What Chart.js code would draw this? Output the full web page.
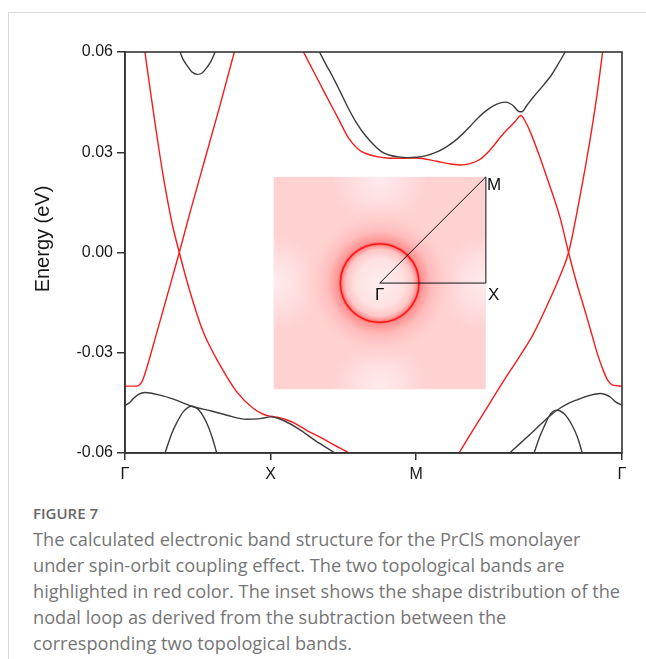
<!DOCTYPE html>
<html>
<head>
<meta charset="utf-8">
<script src="https://cdn.jsdelivr.net/npm/chart.js@4.4.1/dist/chart.umd.min.js"></script>
<style>
  body { margin: 0; background: #fff; width: 646px; height: 659px; overflow: hidden; position: relative; }
  .card { position: absolute; left: 8px; top: 12px; width: 700px; height: 700px; border-left: 1px solid #d9d9d9; border-top: 1px solid #d9d9d9; }
  #wrap { position: absolute; left: 0; top: 0; width: 646px; height: 500px; }
  .fig { position: absolute; left: 33px; top: 503px; font: 600 15px "Open Sans", sans-serif; color: #666; line-height: 20px; }
  .cap { position: absolute; left: 33px; top: 526px; font: 400 18.2px "Open Sans", sans-serif; color: #767676; line-height: 26px; white-space: nowrap; }
</style>
</head>
<body>
<div class="card"></div>
<div id="wrap"><canvas id="bands" width="646" height="500"></canvas></div>
<div class="fig">FIGURE 7</div>
<div class="cap">
  <div>The calculated electronic band structure for the PrClS monolayer</div>
  <div>under spin-orbit coupling effect. The two topological bands are</div>
  <div>highlighted in red color. The inset shows the shape distribution of the</div>
  <div>nodal loop as derived from the subtraction between the</div>
  <div>corresponding two topological bands.</div>
</div>
<script>
// k-path positions of high-symmetry points and their labels
const kTicks = [0, 1, 2, 3.414];
const kLabels = ["Γ", "X", "M", "Γ"];
const eTicks = [-0.06, -0.03, 0, 0.03, 0.06];

// topological bands (red), [k, energy in eV]
const redBandA = [
  [0, -0.0400], [0.08, -0.0400], [0.10, -0.0396], [0.115, -0.0388], [0.13, -0.0372],
  [0.16, -0.0330], [0.195, -0.0276], [0.263, -0.0171], [0.321, -0.0081], [0.373, 0.0],
  [0.447, 0.0120], [0.538, 0.0262], [0.653, 0.0441], [0.751, 0.0600]
];
const redBandB = [
  [0.137, 0.0600], [0.165, 0.0512], [0.195, 0.0421], [0.23, 0.0318], [0.263, 0.0228],
  [0.321, 0.0092], [0.373, 0.0], [0.447, -0.0118], [0.538, -0.0238], [0.653, -0.0337],
  [0.768, -0.0417], [0.882, -0.0467], [0.95, -0.0484], [1.0, -0.0490], [1.06, -0.0494],
  [1.10, -0.0499], [1.17, -0.0512], [1.26, -0.0535], [1.35, -0.0555], [1.42, -0.0572],
  [1.54, -0.0600]
];
const redBandC = [
  [1.226, 0.0600], [1.30, 0.0538], [1.38, 0.0471], [1.46, 0.0405], [1.535, 0.0343],
  [1.60, 0.0310], [1.65, 0.0297], [1.73, 0.0287], [1.80, 0.0283], [1.90, 0.0282],
  [2.00, 0.0283], [2.143, 0.0273], [2.22, 0.0266], [2.30, 0.0262], [2.37, 0.0266],
  [2.44, 0.0279], [2.50, 0.0303], [2.60, 0.0356], [2.68, 0.0392], [2.72, 0.0410],
  [2.75, 0.0392], [2.784, 0.0361], [2.85, 0.0285], [2.90, 0.0222], [2.99, 0.0102],
  [3.047, 0.0], [3.105, -0.0095], [3.15, -0.0160], [3.20, -0.0235], [3.25, -0.0310],
  [3.29, -0.0358], [3.32, -0.0385], [3.35, -0.0397], [3.414, -0.0400]
];
const redBandD = [
  [2.294, -0.0600], [2.40, -0.0525], [2.50, -0.0455], [2.60, -0.0385], [2.70, -0.0318],
  [2.80, -0.0248], [2.90, -0.0158], [2.99, -0.0068], [3.047, 0.0], [3.127, 0.0172],
  [3.196, 0.0341], [3.242, 0.0471], [3.281, 0.0600]
];

// other bands (black)
const blackBandTop = [
  [0.378, 0.0600], [0.40, 0.0577], [0.424, 0.0561], [0.46, 0.0540], [0.497, 0.0533],
  [0.53, 0.0537], [0.561, 0.0553], [0.59, 0.0572], [0.619, 0.0600]
];
const blackBandA = [
  [0, -0.0457], [0.03, -0.0450], [0.057, -0.0437], [0.09, -0.0425], [0.137, -0.0419],
  [0.241, -0.0427], [0.332, -0.0439], [0.458, -0.0460], [0.60, -0.0475], [0.70, -0.0487],
  [0.836, -0.0499], [0.93, -0.0497], [1.0, -0.0492], [1.05, -0.0496], [1.10, -0.0505],
  [1.19, -0.0527], [1.305, -0.0562], [1.443, -0.0600]
];
const blackBandB = [
  [0.275, -0.0600], [0.32, -0.0543], [0.355, -0.0510], [0.40, -0.0477], [0.458, -0.0460],
  [0.51, -0.0473], [0.562, -0.0511], [0.60, -0.0555], [0.630, -0.0600]
];
const blackBandC = [
  [1.336, 0.0600], [1.38, 0.0563], [1.421, 0.0531], [1.48, 0.0480], [1.535, 0.0431],
  [1.59, 0.0388], [1.65, 0.0351], [1.71, 0.0322], [1.765, 0.0301], [1.82, 0.0291],
  [1.879, 0.0286], [1.94, 0.0284], [2.0, 0.0285], [2.07, 0.0290], [2.143, 0.0301],
  [2.20, 0.0314], [2.257, 0.0331], [2.32, 0.0355], [2.371, 0.0378], [2.43, 0.0405],
  [2.486, 0.0426], [2.55, 0.0443], [2.612, 0.0450], [2.665, 0.0440], [2.705, 0.0422],
  [2.725, 0.0421], [2.76, 0.0440], [2.807, 0.0466], [2.875, 0.0501], [2.921, 0.0526],
  [2.97, 0.0560], [3.024, 0.0600]
];
const blackBandD = [
  [2.642, -0.0600], [2.72, -0.0569], [2.80, -0.0537], [2.88, -0.0504], [2.967, -0.0472],
  [3.04, -0.0453], [3.105, -0.0441], [3.19, -0.0428], [3.265, -0.0422], [3.30, -0.0425],
  [3.335, -0.0433], [3.37, -0.0447], [3.414, -0.0457]
];
const blackBandE = [
  [2.810, -0.0600], [2.85, -0.0550], [2.875, -0.0525], [2.92, -0.0485], [2.967, -0.0472],
  [3.02, -0.0484], [3.071, -0.0517], [3.11, -0.0555], [3.141, -0.0600]
];

// inset: Brillouin-zone path (units of half zone width) and nodal loop radius
const insetPath = [[0, 0], [1, 0], [1, 1], [0, 0]];
const insetLabels = [["Γ", 0, 0], ["X", 1, 0], ["M", 1, 1]];
const nodalLoopRadius = 0.37;
// where the inset sits, in the main chart's (k, E) units
const insetBox = { kMin: 1.02, kMax: 2.479, eMin: -0.041, eMax: 0.0227 };

const RED = "#f51c1c";
const BLACK = "#3c3c3c";
const AXIS = "#333333";
const FONT = "'Liberation Sans', Arial, sans-serif";

function band(points, color) {
  return {
    data: points.map(([k, e]) => ({ x: k, y: e })),
    borderColor: color,
    borderWidth: 1.4,
    pointRadius: 0,
    fill: false,
    cubicInterpolationMode: "monotone",
  };
}

// frame around the plot + y title
const framePlugin = {
  id: "frame",
  afterDraw(chart) {
    const { ctx, chartArea: a } = chart;
    ctx.save();
    ctx.strokeStyle = AXIS;
    ctx.lineWidth = 1.6;
    ctx.strokeRect(a.left, a.top, a.right - a.left, a.bottom - a.top);
    ctx.translate(43, 239);
    ctx.rotate(-Math.PI / 2);
    ctx.fillStyle = "#1a1a1a";
    ctx.font = "20px " + FONT;
    ctx.textAlign = "center";
    ctx.textBaseline = "middle";
    ctx.fillText("Energy (eV)", 0, 0);
    ctx.restore();
  },
};

// nodal-loop inset
const insetPlugin = {
  id: "inset",
  afterDatasetsDraw(chart) {
    const { ctx, scales } = chart;
    const x0 = scales.x.getPixelForValue(insetBox.kMin);
    const x1 = scales.x.getPixelForValue(insetBox.kMax);
    const y0 = scales.y.getPixelForValue(insetBox.eMax);
    const y1 = scales.y.getPixelForValue(insetBox.eMin);
    const cx = (x0 + x1) / 2, cy = (y0 + y1) / 2;
    const half = (x1 - x0) / 2;
    const toPx = (u, v) => [cx + u * half, cy - v * half];
    const r = nodalLoopRadius * half;

    ctx.save();
    ctx.beginPath();
    ctx.rect(x0, y0, x1 - x0, y1 - y0);
    ctx.clip();
    ctx.fillStyle = "#ffd2d2";
    ctx.fillRect(x0, y0, x1 - x0, y1 - y0);

    // lighter patches at the zone-edge midpoints
    [[0, 1], [0, -1], [-1, 0], [1, 0]].forEach(([u, v]) => {
      const [px, py] = toPx(u, v);
      const g = ctx.createRadialGradient(px, py, 0, px, py, half * 0.45);
      g.addColorStop(0, "rgba(255,236,238,1)");
      g.addColorStop(1, "rgba(255,236,238,0)");
      ctx.fillStyle = g;
      ctx.fillRect(x0, y0, x1 - x0, y1 - y0);
    });

    // glow around the nodal loop
    const R = r * 2.1;
    const g = ctx.createRadialGradient(cx, cy, 0, cx, cy, R);
    const f = r / R;
    g.addColorStop(0, "rgba(255,238,238,1)");
    g.addColorStop(f * 0.6, "rgba(255,226,226,1)");
    g.addColorStop(f * 0.85, "rgba(255,198,198,1)");
    g.addColorStop(f * 0.95, "rgba(255,145,145,1)");
    g.addColorStop(f, "rgba(255,70,70,1)");
    g.addColorStop(f * 1.05, "rgba(255,145,145,1)");
    g.addColorStop(f * 1.3, "rgba(255,186,186,1)");
    g.addColorStop(f * 1.7, "rgba(255,206,206,0.6)");
    g.addColorStop(1, "rgba(255,210,210,0)");
    ctx.fillStyle = g;
    ctx.beginPath();
    ctx.arc(cx, cy, R, 0, Math.PI * 2);
    ctx.fill();

    ctx.strokeStyle = "#ff1010";
    ctx.lineWidth = 1.3;
    ctx.beginPath();
    ctx.arc(cx, cy, r, 0, Math.PI * 2);
    ctx.stroke();
    ctx.restore();

    // zone path and labels
    ctx.save();
    ctx.strokeStyle = "#111";
    ctx.lineWidth = 1;
    ctx.beginPath();
    insetPath.forEach(([u, v], i) => {
      const [px, py] = toPx(u, v);
      if (i === 0) ctx.moveTo(px, py); else ctx.lineTo(px, py);
    });
    ctx.stroke();
    ctx.fillStyle = "#111";
    ctx.font = "17px " + FONT;
    ctx.textBaseline = "middle";
    insetLabels.forEach(([t, u, v]) => {
      const [px, py] = toPx(u, v);
      if (t === "Γ") { ctx.textAlign = "center"; ctx.fillText(t, px, py + 12); }
      else if (t === "X") { ctx.textAlign = "left"; ctx.fillText(t, px + 2, py + 12); }
      else { ctx.textAlign = "left"; ctx.fillText(t, px + 1, py + 8); }
    });
    ctx.restore();
  },
};

new Chart(document.getElementById("bands"), {
  type: "line",
  data: {
    datasets: [
      band(blackBandTop, BLACK),
      band(blackBandA, BLACK),
      band(blackBandB, BLACK),
      band(blackBandC, BLACK),
      band(blackBandD, BLACK),
      band(blackBandE, BLACK),
      band(redBandA, RED),
      band(redBandB, RED),
      band(redBandC, RED),
      band(redBandD, RED),
    ],
  },
  options: {
    responsive: false,
    animation: false,
    layout: { padding: { top: 52, right: 24, bottom: 0, left: 0 } },
    plugins: { legend: { display: false }, tooltip: { enabled: false } },
    scales: {
      x: {
        type: "linear",
        min: 0,
        max: kTicks[kTicks.length - 1],
        afterBuildTicks: (s) => { s.ticks = kTicks.map((v) => ({ value: v })); },
        afterFit: (s) => { s.height = 47; },
        ticks: {
          autoSkip: false,
          maxRotation: 0,
          padding: 5,
          color: "#1a1a1a",
          font: { family: FONT, size: 16 },
          callback: (v, i) => kLabels[i],
        },
        grid: { drawOnChartArea: false, drawTicks: true, tickLength: 7, color: AXIS, lineWidth: 1.5 },
        border: { display: true, color: AXIS, width: 1.6 },
      },
      y: {
        min: eTicks[0],
        max: eTicks[eTicks.length - 1],
        afterBuildTicks: (s) => { s.ticks = eTicks.map((v) => ({ value: v })); },
        afterFit: (s) => { s.width = 125; },
        ticks: {
          padding: 4,
          color: "#1a1a1a",
          font: { family: FONT, size: 16 },
          callback: (v) => v.toFixed(2),
        },
        grid: { drawOnChartArea: false, drawTicks: true, tickLength: 8, color: AXIS, lineWidth: 1.5 },
        border: { display: true, color: AXIS, width: 1.6 },
      },
    },
  },
  plugins: [framePlugin, insetPlugin],
});
</script>
</body>
</html>
